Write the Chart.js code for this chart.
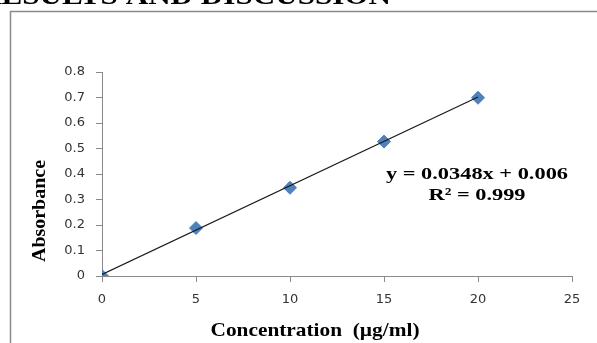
<!DOCTYPE html>
<html>
<head>
<meta charset="utf-8">
<script src="https://cdn.jsdelivr.net/npm/chart.js@4"></script>
<style>
  html, body { margin: 0; padding: 0; background: #fff; }
  #wrap { position: relative; width: 597px; height: 343px; overflow: hidden; }
</style>
</head>
<body>
<div id="wrap"><canvas id="chart-1" width="597" height="343"></canvas></div>
<script>
// data
const concentration = [0, 5, 10, 15, 20];
const absorbance = [0, 0.188, 0.346, 0.527, 0.699];
// linear trend line (y = 0.0348x + 0.006), ends at x = 0 and x = 20
const trendX = [0, 20];
const trendY = [0.006, 0.702];

const heading = "RESULTS AND DISCUSSION";
const xTitle = "Concentration  (\u00b5g/ml)";
const yTitle = "Absorbance";
const equation = ["y = 0.0348x + 0.006", "R\u00b2 = 0.999"];

const serif = '"Liberation Serif", "Times New Roman", serif';

// draws text stretched to a given length (the figure is widened)
function fitText(ctx, text, x, y, size, len, rot, align) {
  ctx.save();
  ctx.font = "bold " + size + "px " + serif;
  const w = ctx.measureText(text).width;
  ctx.translate(x, y);
  if (rot) ctx.rotate(-Math.PI / 2);
  ctx.scale(len / w, 1);
  ctx.textAlign = align || "center";
  ctx.textBaseline = "alphabetic";
  ctx.fillStyle = "#000";
  ctx.fillText(text, 0, 0);
  ctx.restore();
}

const textPlugin = {
  id: "pageText",
  beforeDraw(chart) {
    const ctx = chart.ctx;
    ctx.save();
    ctx.fillStyle = "#fff";
    ctx.fillRect(0, 0, chart.width, chart.height);
    // box round the chart
    ctx.strokeStyle = "#8a8a8a";
    ctx.lineWidth = 1.5;
    ctx.beginPath();
    ctx.moveTo(10.5, chart.height + 2);
    ctx.lineTo(10.5, 11.5);
    ctx.lineTo(chart.width + 2, 11.5);
    ctx.stroke();
    ctx.restore();
    // heading of the page, cut at the top
    fitText(ctx, heading, 391, 4, 26, 412, false, "right");
  },
  afterDraw(chart) {
    const ctx = chart.ctx;
    fitText(ctx, yTitle, 45, 211, 19, 102, true);
    fitText(ctx, xTitle, 315, 336, 19, 209);
    fitText(ctx, equation[0], 477, 179, 17, 182);
    fitText(ctx, equation[1], 477, 200, 17, 97);
  }
};

const ctx1 = document.getElementById("chart-1").getContext("2d");

const axisStyle = {
  grid: { display: true, drawOnChartArea: false, drawTicks: true, tickLength: 6, color: "#8a8a8a" },
  border: { display: true, color: "#8a8a8a", width: 1 },
};

const myChart = new Chart(ctx1, {
  type: "scatter",
  data: {
    datasets: [
      {
        label: "Linear",
        data: trendX.map((x, i) => ({ x: x, y: trendY[i] })),
        showLine: true,
        borderColor: "#1a1a1a",
        borderWidth: 1.2,
        pointRadius: 0,
        order: 0,
      },
      {
        label: "Absorbance",
        data: concentration.map((x, i) => ({ x: x, y: absorbance[i] })),
        showLine: false,
        pointStyle: "rectRot",
        pointRadius: 6.5,
        backgroundColor: "#4f81bd",
        borderColor: "#4a7ebb",
        borderWidth: 1,
        order: 1,
      },
    ],
  },
  options: {
    responsive: false,
    animation: false,
    events: [],
    layout: { padding: { left: 62, right: 25, top: 72, bottom: 37 } },
    plugins: { legend: { display: false }, tooltip: { enabled: false } },
    scales: {
      x: {
        type: "linear",
        min: 0,
        max: 25,
        ...axisStyle,
        afterFit: (s) => { s.height = 30; },
        ticks: { stepSize: 5, padding: 10, color: "#333", font: { family: "DejaVu Sans", size: 13 } },
      },
      y: {
        type: "linear",
        min: 0,
        max: 0.8,
        ...axisStyle,
        afterFit: (s) => { s.width = 40; },
        ticks: {
          stepSize: 0.1,
          padding: 11,
          color: "#333",
          font: { family: "DejaVu Sans", size: 13 },
          callback: (v) => +v.toFixed(1),
        },
      },
    },
  },
  plugins: [textPlugin],
});
</script>
</body>
</html>
